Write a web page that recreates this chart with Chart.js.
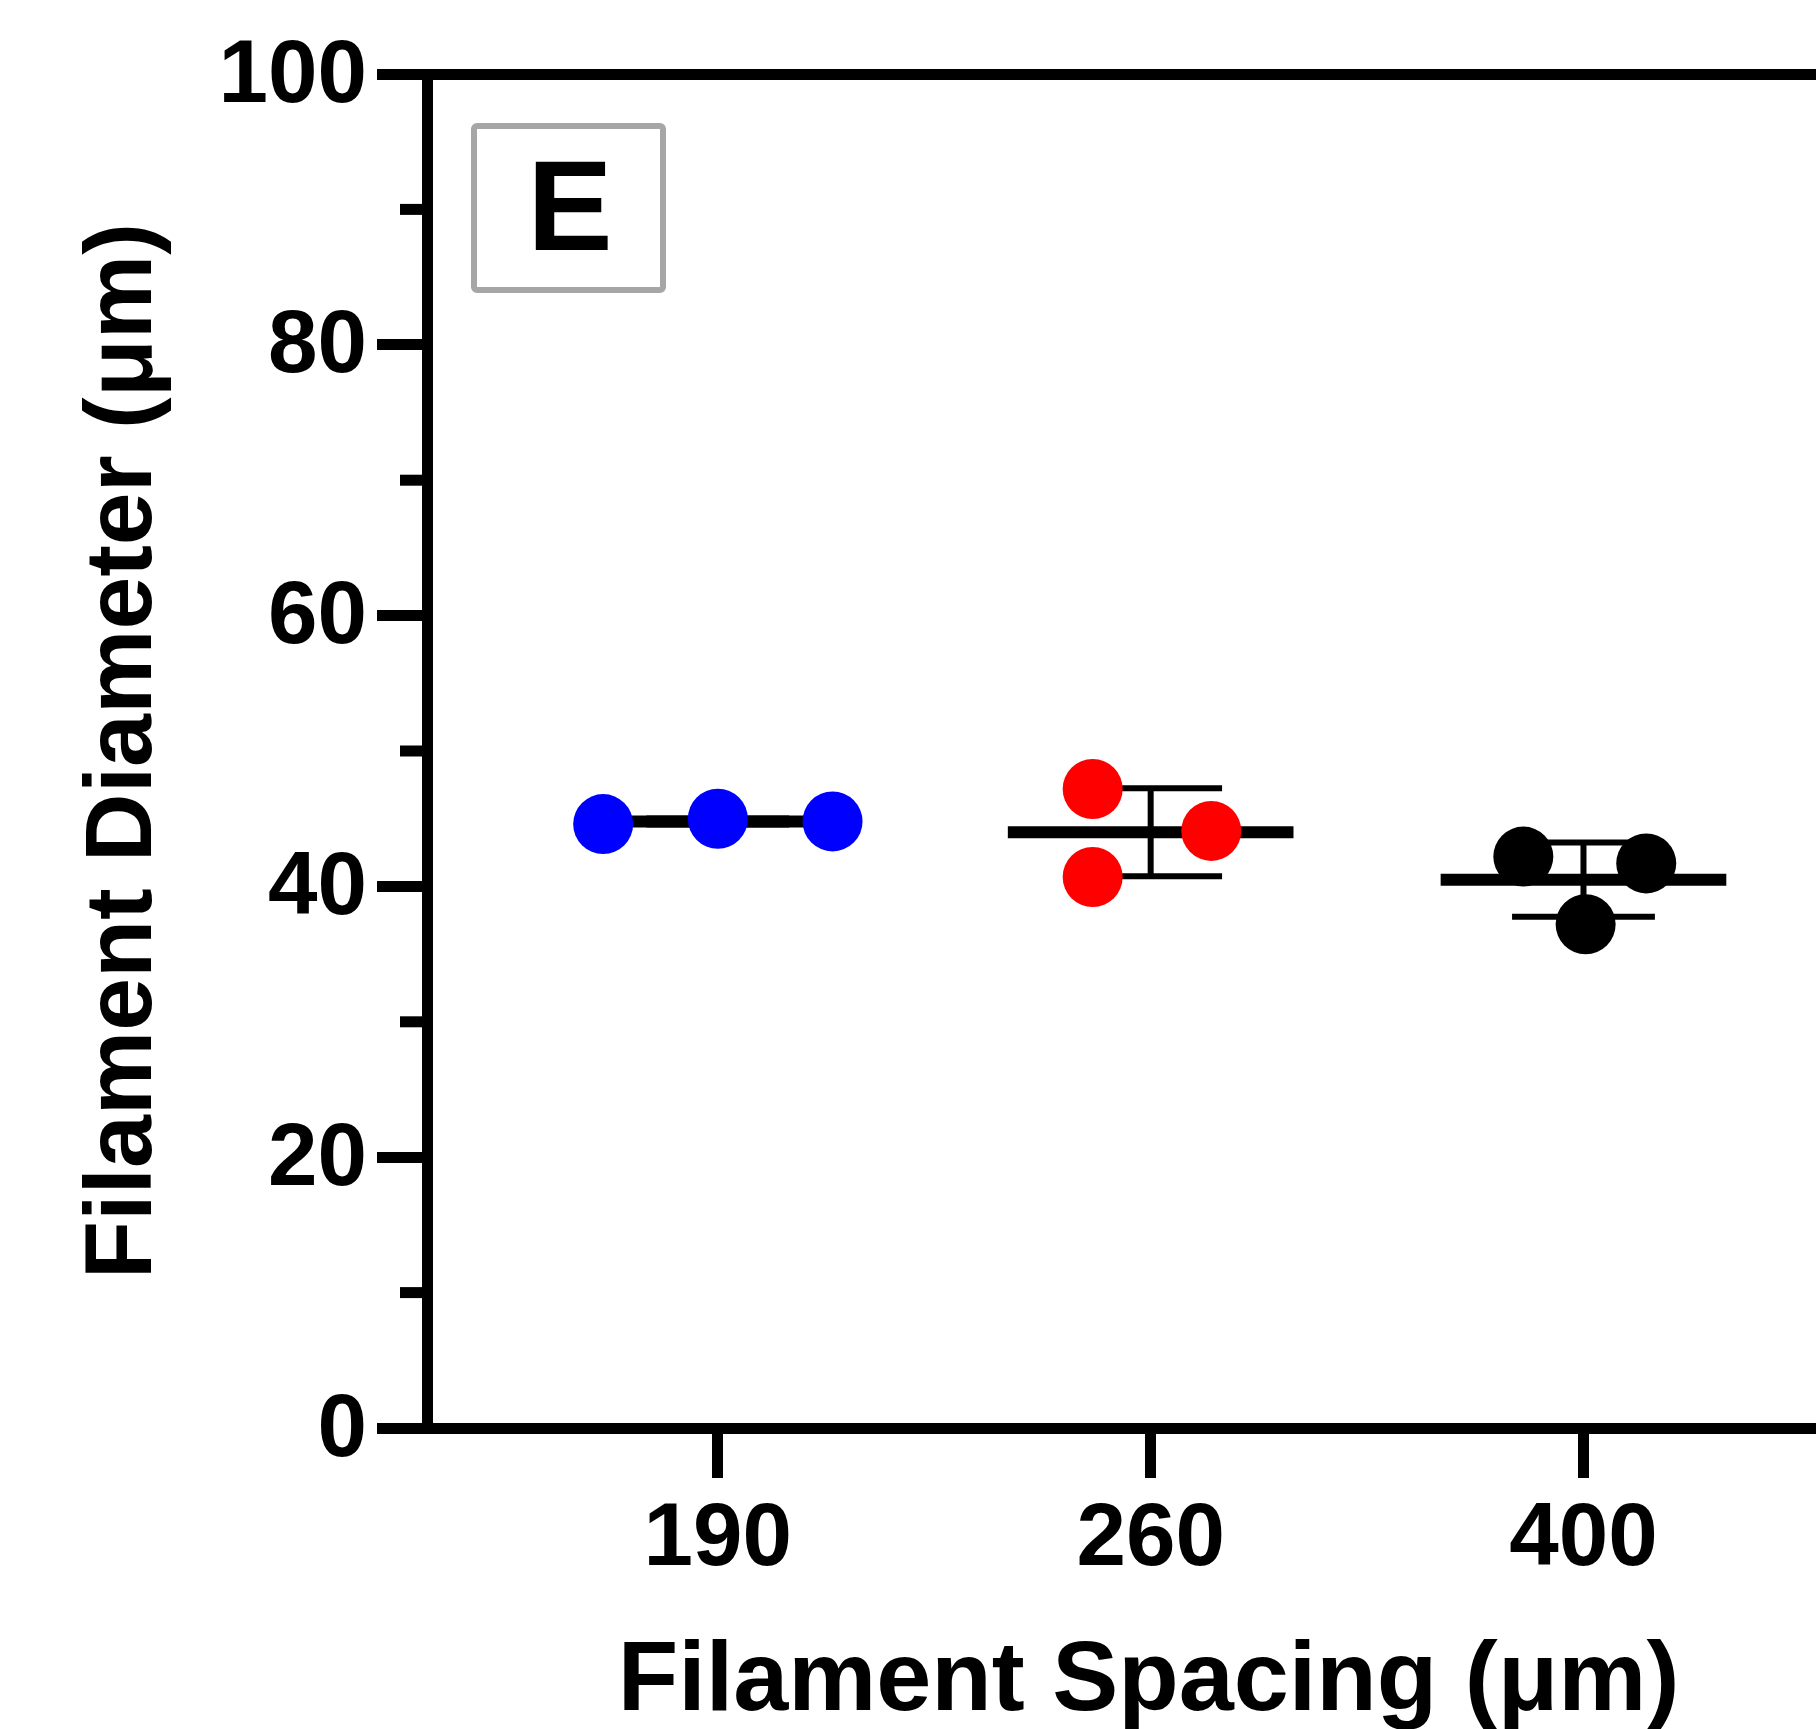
<!DOCTYPE html>
<html>
<head>
<meta charset="utf-8">
<title>Filament Diameter vs Filament Spacing</title>
<script src="https://cdn.jsdelivr.net/npm/chart.js@4.4.1/dist/chart.umd.min.js"></script>
<style>
  html, body { margin: 0; padding: 0; background: #fff; overflow: hidden; }
  #wrap { width: 1816px; height: 1729px; overflow: hidden; }
</style>
</head>
<body>
<div id="wrap"><canvas id="chart" width="1900" height="1729"></canvas></div>
<script>
// data
const categories = ["190", "260", "400"];
const blueValues = [44.6, 45.0, 44.8];
const blueJitter = [-0.265, 0, 0.265];
const redValues = [47.2, 44.1, 40.7];
const redJitter = [-0.134, 0.14, -0.134];
const blackValues = [42.2, 41.7, 37.2];
const blackJitter = [-0.139, 0.145, 0.005];
const means = [44.8, 44.0, 40.5];
const sds = [0.22, 3.25, 2.75];
const yTicks = [0, 20, 40, 60, 80, 100];
const minorTicks = [10, 30, 50, 70, 90];
const panelLabel = "E";

const FONT = "'Liberation Sans', Arial, Helvetica, sans-serif";
const MEAN_HALF = 0.33;
const CAP_HALF = 0.165;

function points(values, jitter, idx) {
  return values.map((v, i) => ({ x: idx + 1 + jitter[i], y: v }));
}

function meanLine(idx) {
  const c = idx + 1;
  return [{ x: c - MEAN_HALF, y: means[idx] }, { x: c + MEAN_HALF, y: means[idx] }];
}

function errorBar(idx) {
  // caps and whisker, broken with null points
  const c = idx + 1, hi = means[idx] + sds[idx], lo = means[idx] - sds[idx];
  return [
    { x: c - CAP_HALF, y: hi }, { x: c + CAP_HALF, y: hi }, { x: c + CAP_HALF, y: null },
    { x: c, y: hi }, { x: c, y: lo }, { x: c, y: null },
    { x: c - CAP_HALF, y: lo }, { x: c + CAP_HALF, y: lo }
  ];
}

const colors = ["#0000ff", "#ff0000", "#000000"];
const groups = [
  points(blueValues, blueJitter, 0),
  points(redValues, redJitter, 1),
  points(blackValues, blackJitter, 2)
];

const datasets = [];
groups.forEach((g, i) => {
  datasets.push({
    type: "scatter", data: g, order: 0,
    pointRadius: 30, pointHoverRadius: 30, pointBorderWidth: 0,
    backgroundColor: colors[i], borderColor: colors[i]
  });
  datasets.push({
    type: "line", data: meanLine(i), order: 1,
    borderColor: "#000", borderWidth: 12, pointRadius: 0, borderCapStyle: "butt"
  });
  datasets.push({
    type: "line", data: errorBar(i), order: 2, spanGaps: false,
    borderColor: "#000", borderWidth: 6, pointRadius: 0, borderCapStyle: "butt"
  });
});

// minor y ticks and the panel letter
const extras = {
  id: "extras",
  afterDraw(chart) {
    const { ctx, chartArea, scales } = chart;
    ctx.save();
    ctx.strokeStyle = "#000";
    ctx.lineWidth = 11;
    minorTicks.forEach((v) => {
      const y = scales.y.getPixelForValue(v);
      ctx.beginPath();
      ctx.moveTo(chartArea.left, y);
      ctx.lineTo(chartArea.left - 27, y);
      ctx.stroke();
    });
    // label box
    const bx = chartArea.left + 47, by = chartArea.top + 52;
    ctx.strokeStyle = "#a6a6a6";
    ctx.lineWidth = 6;
    ctx.beginPath();
    ctx.roundRect(bx, by, 189, 164, 3);
    ctx.stroke();
    ctx.fillStyle = "#000";
    ctx.font = "bold 128px " + FONT;
    ctx.textAlign = "center";
    ctx.textBaseline = "middle";
    ctx.fillText(panelLabel, bx + 96, by + 89);
    ctx.restore();
  }
};

new Chart(document.getElementById("chart"), {
  data: { datasets: datasets },
  plugins: [extras],
  options: {
    responsive: false,
    animation: false,
    events: [],
    layout: { padding: { left: 60, top: 74, right: 25, bottom: 0 } },
    plugins: { legend: { display: false }, tooltip: { enabled: false } },
    scales: {
      x: {
        type: "linear",
        min: 0.328,
        max: 3.662,
        afterBuildTicks: (scale) => { scale.ticks = [1, 2, 3].map((v) => ({ value: v })); },
        afterFit: (scale) => { scale.height = 301; },
        ticks: {
          color: "#000",
          padding: 9,
          font: { family: FONT, size: 89, weight: "bold", lineHeight: 1.2 },
          callback: (v) => categories[v - 1]
        },
        grid: { drawOnChartArea: false, tickLength: 50, tickWidth: 11, tickColor: "#000" },
        border: { display: true, width: 11, color: "#000" },
        title: {
          display: true,
          text: "Filament Spacing (μm)",
          color: "#000",
          padding: { top: 0, bottom: 0 },
          font: { family: FONT, size: 99, weight: "bold", lineHeight: 0.94 }
        }
      },
      y: {
        type: "linear",
        min: 0,
        max: 100,
        afterBuildTicks: (scale) => { scale.ticks = yTicks.map((v) => ({ value: v })); },
        afterFit: (scale) => { scale.width = 367; },
        ticks: {
          color: "#000",
          padding: 10,
          labelOffset: 3,
          font: { family: FONT, size: 89, weight: "bold" }
        },
        grid: {
          drawOnChartArea: true,
          color: (c) => (c.tick && c.tick.value === 100 ? "#000" : "rgba(0,0,0,0)"),
          lineWidth: 11,
          tickLength: 50,
          tickWidth: 11,
          tickColor: "#000"
        },
        border: { display: true, width: 11, color: "#000" },
        title: {
          display: true,
          text: "Filament Diameter (μm)",
          color: "#000",
          padding: { top: 8, bottom: 0 },
          font: { family: FONT, size: 95, weight: "bold", lineHeight: 1.2 }
        }
      }
    }
  }
});
</script>
</body>
</html>
